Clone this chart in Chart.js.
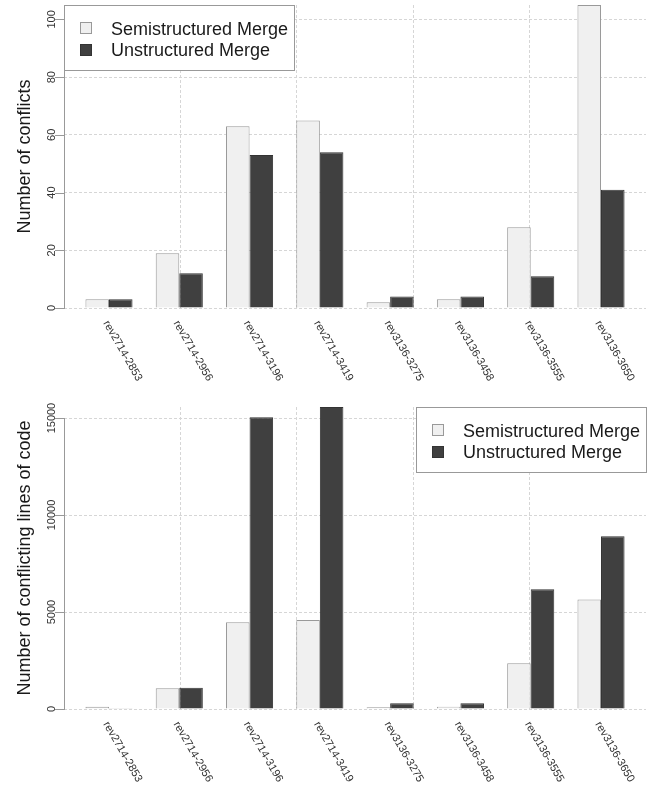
<!DOCTYPE html>
<html><head><meta charset="utf-8">
<script src="https://cdn.jsdelivr.net/npm/chart.js@4/dist/chart.umd.min.js"></script>
<style>
html,body{margin:0;padding:0;background:#fff;}
.w{position:relative;width:650px;height:394px;}
canvas{display:block;}
</style>
</head><body>
<div class="w"><canvas id="c1" width="650" height="394"></canvas></div>
<div class="w"><canvas id="c2" width="650" height="394"></canvas></div>
<script>
// ---- data ----
const categories = ['rev2714-2853','rev2714-2956','rev2714-3196','rev2714-3419','rev3136-3275','rev3136-3458','rev3136-3555','rev3136-3650'];
const seriesNames = ['Semistructured Merge','Unstructured Merge'];
const conflictsSemi  = [3, 19, 63, 65, 2, 3, 28, 105];
const conflictsUnstr = [3, 12, 53, 54, 4, 4, 11, 41];
const linesSemi  = [110, 1070, 4470, 4590, 90, 120, 2360, 5640];
const linesUnstr = [40, 1100, 15040, 15570, 300, 300, 6170, 8900];
const conflictsTicks = [0, 20, 40, 60, 80, 100];
const linesTicks = [0, 5000, 10000, 15000];
const titles = ['Number of conflicts', 'Number of conflicting lines of code'];

Chart.defaults.font.family = "'Liberation Sans', Arial, sans-serif";

const FILL = ['#f0f0f0', '#404040'];
const BORDER = ['#999999', '#333333'];

const decor = {
  id: 'decor',
  afterDraw(chart, args, o) {
    const ctx = chart.ctx, ys = chart.scales.y, xs = chart.scales.x, ca = chart.chartArea;
    ctx.save();
    // y axis line and ticks
    const tks = o.ticks;
    ctx.strokeStyle = '#999'; ctx.lineWidth = 1;
    ctx.beginPath();
    ctx.moveTo(ca.left + 0.5, Math.round(ys.getPixelForValue(tks[0])) + 0.5);
    ctx.lineTo(ca.left + 0.5, Math.round(ys.getPixelForValue(tks[tks.length - 1])) + 0.5);
    tks.forEach(v => {
      const y = Math.round(ys.getPixelForValue(v)) + 0.5;
      ctx.moveTo(ca.left - 9, y); ctx.lineTo(ca.left + 1, y);
    });
    ctx.stroke();
    // y tick labels (rotated)
    ctx.fillStyle = '#333'; ctx.font = "11px 'Liberation Sans', Arial, sans-serif";
    ctx.textAlign = 'center'; ctx.textBaseline = 'alphabetic';
    tks.forEach(v => {
      const y = ys.getPixelForValue(v);
      ctx.save(); ctx.translate(ca.left - 9, y); ctx.rotate(-Math.PI / 2);
      ctx.fillText(String(v), 0, 0); ctx.restore();
    });
    // y title
    ctx.fillStyle = '#1a1a1a'; ctx.font = "18px 'Liberation Sans', Arial, sans-serif";
    ctx.save(); ctx.translate(30, (ca.top + ca.bottom) / 2); ctx.rotate(-Math.PI / 2);
    ctx.textAlign = 'center'; ctx.fillText(o.title, 0, 0); ctx.restore();
    // x labels rotated clockwise
    ctx.fillStyle = '#333'; ctx.font = "11px 'Liberation Sans', Arial, sans-serif";
    ctx.textAlign = 'left'; ctx.textBaseline = 'alphabetic';
    categories.forEach((c, i) => {
      const x = xs.getPixelForValue(i);
      ctx.save(); ctx.translate(x - 6, ca.bottom + 15); ctx.rotate(Math.PI / 3);
      ctx.fillText(c, 0, 0); ctx.restore();
    });
    // legend box
    const bw = 230, bh = 65;
    const bx = o.legendSide === 'left' ? ca.left : ca.right - bw;
    const by = ca.top;
    ctx.fillStyle = '#fff'; ctx.fillRect(bx, by, bw, bh);
    ctx.strokeStyle = '#999'; ctx.lineWidth = 1;
    ctx.strokeRect(Math.round(bx) + 0.5, Math.round(by) + 0.5, bw, bh);
    ctx.font = "18px 'Liberation Sans', Arial, sans-serif";
    ctx.textAlign = 'left'; ctx.textBaseline = 'alphabetic';
    chart.data.datasets.forEach((ds, k) => {
      const sy = Math.round(by + 17 + k * 21.5);
      ctx.fillStyle = ds.backgroundColor; ctx.fillRect(Math.round(bx + 16), sy, 11, 11);
      ctx.strokeStyle = ds.borderColor; ctx.strokeRect(Math.round(bx + 16) + 0.5, sy + 0.5, 11, 11);
      ctx.fillStyle = '#1a1a1a';
      ctx.fillText(ds.label, bx + 47, by + 29.5 + k * 21.5);
    });
    ctx.restore();
  }
};

function makeChart(id, semi, unstr, ticks, title, padTop, xHeight, legendSide) {
  const yMax = Math.max(...semi, ...unstr);
  return new Chart(document.getElementById(id), {
    type: 'bar',
    data: {
      datasets: [semi, unstr].map((arr, k) => ({
        label: seriesNames[k],
        data: arr.map((v, i) => ({ x: i, y: v })),
        backgroundColor: FILL[k], borderColor: BORDER[k], borderWidth: 1,
        xAxisID: 'x', yAxisID: 'y',
        categoryPercentage: 0.67, barPercentage: 1.0
      }))
    },
    options: {
      responsive: false, animation: false, events: [],
      layout: { padding: { top: padTop, right: 4, left: 0, bottom: 0 } },
      plugins: { legend: { display: false }, tooltip: { enabled: false },
        decor: { ticks: ticks, title: title, legendSide: legendSide } },
      scales: {
        x: {
          type: 'linear', position: 'bottom', offset: false,
          min: -0.64, max: categories.length - 1 + 0.64,
          afterBuildTicks: s => { s.ticks = categories.map((c, i) => ({ value: i })); },
          ticks: { display: false }, grid: { display: false, offset: false }, border: { display: false },
          afterFit: s => { s.height = xHeight; }
        },
        xg: {
          type: 'linear', position: 'bottom', offset: false, min: 0, max: 5,
          ticks: { display: false, stepSize: 1 },
          grid: { drawTicks: false, lineWidth: 1, offset: false,
            color: c => (c.tick && c.tick.value > 0 && c.tick.value < 5) ? '#d6d6d6' : 'rgba(0,0,0,0)' },
          border: { display: false, dash: [3, 2] },
          afterFit: s => { s.height = 0; }
        },
        y: {
          type: 'linear', min: 0, max: yMax,
          afterBuildTicks: s => { s.ticks = ticks.map(v => ({ value: v })); },
          ticks: { display: false },
          grid: { drawTicks: false, color: '#d6d6d6', lineWidth: 1 },
          border: { display: false, dash: [3, 2] },
          afterFit: s => { s.width = 64; }
        }
      }
    },
    plugins: [decor]
  });
}

makeChart('c1', conflictsSemi, conflictsUnstr, conflictsTicks, titles[0], 5, 86, 'left');
makeChart('c2', linesSemi, linesUnstr, linesTicks, titles[1], 13, 79, 'right');
</script>
</body></html>
